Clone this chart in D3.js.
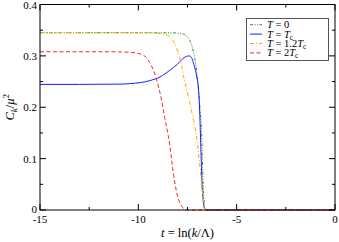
<!DOCTYPE html>
<html>
<head>
<meta charset="utf-8">
<script src="https://cdn.jsdelivr.net/npm/d3@7"></script>
<style>
  body { margin: 0; background: #fff; }
  svg text { font-family: "Liberation Serif", "Times New Roman", serif; }
</style>
</head>
<body>
<div id="chart"></div>
<script>
// Data
const tZero = [-15, -8.5, -7.9, -7.6, -7.39, -7.25, -7.13, -7.04, -6.96, -6.9, -6.84, -6.79, -6.75, -6.71, -6.66, -6.62, -6.5, 0];
const cZero = [0.345, 0.345, 0.344, 0.340, 0.331, 0.316, 0.295, 0.272, 0.243, 0.215, 0.185, 0.158, 0.11, 0.055, 0.02, 0.002, 0, 0];

const tTc = [-15, -13, -11, -10.4, -9.4, -8.9, -8.4, -8.0, -7.73, -7.55, -7.42, -7.3, -7.22, -7.05, -6.93, -6.88, -6.82, -6.76, -6.7, -6.62, -6.5, 0];
const cTc = [0.2445, 0.2445, 0.245, 0.246, 0.252, 0.259, 0.272, 0.284, 0.295, 0.299, 0.300, 0.297, 0.289, 0.263, 0.23, 0.191, 0.12, 0.05, 0.018, 0.002, 0, 0];

const t12Tc = [-15, -9.5, -9.0, -8.7, -8.4, -8.15, -7.89, -7.64, -7.39, -7.22, -7.05, -6.88, -6.79, -6.71, -6.64, -6.59, -6.5, 0];
const c12Tc = [0.345, 0.345, 0.344, 0.342, 0.337, 0.324, 0.295, 0.25, 0.21, 0.179, 0.146, 0.088, 0.055, 0.023, 0.006, 0.001, 0, 0];

const t2Tc = [-15, -11.5, -10.5, -9.92, -9.5, -9.08, -8.82, -8.65, -8.4, -8.23, -8.06, -7.89, -7.75, -7.64, -7.5, 0];
const c2Tc = [0.308, 0.308, 0.307, 0.304, 0.292, 0.255, 0.214, 0.178, 0.126, 0.075, 0.036, 0.014, 0.005, 0.001, 0, 0];

const xMajorTicks = [-15, -10, -5, 0];
const xMinorTicks = [-12.5, -7.5, -2.5];
const yMajorTicks = [0, 0.1, 0.2, 0.3, 0.4];
const yMinorTicks = [0.05, 0.15, 0.25, 0.35];

// legend labels: [text, italic, subscript]
const legendLabels = [
  [["T", true], [" = 0", false]],
  [["T", true], [" = ", false], ["T", true], ["c", false, true]],
  [["T", true], [" = 1.2", false], ["T", true], ["c", false, true]],
  [["T", true], [" = 2", false], ["T", true], ["c", false, true]]
];

const series = [
  { t: tZero, c: cZero, color: "#1f9b1f", dash: "3,1.5,1,1.5,1,1.5" },
  { t: tTc, c: cTc, color: "#1a1aff", dash: null },
  { t: t12Tc, c: c12Tc, color: "#ffa500", dash: "4,2,1,2" },
  { t: t2Tc, c: c2Tc, color: "#ff2020", dash: "4,2.5" }
];

const W = 339, H = 242;
const margin = { left: 40, right: 4, top: 4.5, bottom: 32 };

const svg = d3.select("#chart").append("svg")
  .attr("width", W)
  .attr("height", H);

const x = d3.scaleLinear().domain([-15, 0]).range([margin.left, W - margin.right]);
const y = d3.scaleLinear().domain([0, 0.4]).range([H - margin.bottom, margin.top]);

// Curves
const line = d3.line()
  .x(d => x(d[0]))
  .y(d => y(d[1]))
  .curve(d3.curveMonotoneX);

const plot = svg.append("g");
series.forEach(s => {
  plot.append("path")
    .datum(s.t.map((t, i) => [t, s.c[i]]))
    .attr("d", line)
    .attr("fill", "none")
    .attr("stroke", s.color)
    .attr("stroke-width", 1)
    .attr("stroke-dasharray", s.dash);
});

// Frame
const x0 = x(-15), x1 = x(0), y0 = y(0), y1 = y(0.4);
svg.append("rect")
  .attr("x", x0)
  .attr("y", y1)
  .attr("width", x1 - x0)
  .attr("height", y0 - y1)
  .attr("fill", "none")
  .attr("stroke", "#000")
  .attr("stroke-width", 1);

// Inward ticks on all four sides
const tickG = svg.append("g").attr("stroke", "#000").attr("stroke-width", 1);
const xTicks = xMajorTicks.map(v => [v, 6]).concat(xMinorTicks.map(v => [v, 3]));
xTicks.forEach(([v, len]) => {
  tickG.append("line").attr("x1", x(v)).attr("x2", x(v)).attr("y1", y0).attr("y2", y0 - len);
  tickG.append("line").attr("x1", x(v)).attr("x2", x(v)).attr("y1", y1).attr("y2", y1 + len);
});
const yTicks = yMajorTicks.map(v => [v, 6]).concat(yMinorTicks.map(v => [v, 3]));
yTicks.forEach(([v, len]) => {
  tickG.append("line").attr("y1", y(v)).attr("y2", y(v)).attr("x1", x0).attr("x2", x0 + len);
  tickG.append("line").attr("y1", y(v)).attr("y2", y(v)).attr("x1", x1).attr("x2", x1 - len);
});

// Tick labels
svg.append("g").selectAll("text")
  .data(xMajorTicks)
  .join("text")
  .attr("x", d => x(d))
  .attr("y", y0 + 13)
  .attr("text-anchor", "middle")
  .attr("font-size", 11)
  .text(d => d);

svg.append("g").selectAll("text")
  .data(yMajorTicks)
  .join("text")
  .attr("x", x0 - 3)
  .attr("y", d => y(d) + (d === 0 ? 2.5 : 4))
  .attr("text-anchor", "end")
  .attr("font-size", 11)
  .text(d => d === 0 ? "0" : d3.format(".1f")(d));

// Axis titles
const xt = svg.append("text")
  .attr("x", (x0 + x1) / 2)
  .attr("y", 237)
  .attr("text-anchor", "middle")
  .attr("font-size", 12.5);
xt.append("tspan").attr("font-style", "italic").text("t");
xt.append("tspan").text(" = ln(");
xt.append("tspan").attr("font-style", "italic").text("k");
xt.append("tspan").text("/Λ)");

const yt = svg.append("text")
  .attr("transform", `translate(14,${(y0 + y1) / 2}) rotate(-90)`)
  .attr("text-anchor", "middle")
  .attr("font-size", 12.5);
yt.append("tspan").attr("font-style", "italic").text("C");
yt.append("tspan").attr("font-style", "italic").attr("font-size", 9).attr("dy", 3).text("k");
yt.append("tspan").attr("dy", -3).text("/");
yt.append("tspan").attr("font-style", "italic").text("μ");
yt.append("tspan").attr("font-size", 9).attr("dy", -5).text("2");

// Legend
const lg = svg.append("g");
lg.append("rect")
  .attr("x", 246.5).attr("y", 18.5)
  .attr("width", 82).attr("height", 42)
  .attr("fill", "#fff")
  .attr("stroke", "#555")
  .attr("stroke-width", 1);

series.forEach((s, i) => {
  const ry = 24.7 + i * 9.4;
  lg.append("line")
    .attr("x1", 250).attr("x2", 262)
    .attr("y1", ry).attr("y2", ry)
    .attr("stroke", s.color)
    .attr("stroke-width", 1)
    .attr("stroke-dasharray", s.dash);
  const tx = lg.append("text")
    .attr("x", 267)
    .attr("y", ry + 3.5)
    .attr("font-size", 10.5);
  legendLabels[i].forEach(([str, ital, sub]) => {
    const ts = tx.append("tspan").text(str);
    if (ital) ts.attr("font-style", "italic");
    if (sub) ts.attr("font-size", 7.5).attr("dy", 2);
  });
});
</script>
</body>
</html>
